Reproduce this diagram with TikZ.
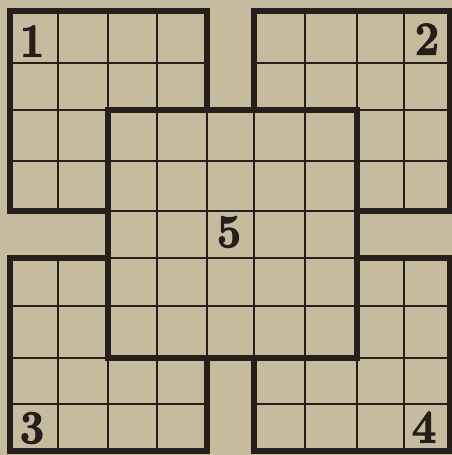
\documentclass[tikz,border=0pt]{standalone}
\usepackage{fontspec}
\usepackage{tikz}
\newfontfamily\numfont[BoldFeatures={FakeBold=2.5}]{Latin Modern Roman}
\definecolor{paper}{RGB}{198,187,158}
\definecolor{ink}{RGB}{38,30,24}
\tikzset{
  gridline/.style={draw=ink, line width=2.8pt, line cap=rect},
  boldline/.style={draw=ink, line width=6pt, line join=miter, line cap=butt},
  numlabel/.style={text=ink, inner sep=0pt, font=\numfont\fontsize{47}{47}\selectfont\bfseries, xscale=0.92},
}
\newcommand\gridregion[4]{%
  \foreach \i in {#1,...,#2} \draw[gridline] (X\i |- Y#3) -- (X\i |- Y#4);
  \foreach \j in {#3,...,#4} \draw[gridline] (X#1 |- Y\j) -- (X#2 |- Y\j);
}
\begin{document}
\begin{tikzpicture}[x=1pt,y=-1pt]
  \fill[paper] (0,0) rectangle (452,455);
  \useasboundingbox (0,0) rectangle (452,455);
  \foreach \v [count=\i from 0] in {10,58,108,157,207,254,305,357,404,450}
    \coordinate (X\i) at (\v,0);
  \foreach \v [count=\j from 0] in {11,63,110,161,211,258,306,358,404,451}
    \coordinate (Y\j) at (0,\v);
  % thin grids of the five squares
  \gridregion{0}{4}{0}{4}
  \gridregion{5}{9}{0}{4}
  \gridregion{0}{4}{5}{9}
  \gridregion{5}{9}{5}{9}
  \gridregion{2}{7}{2}{7}
  % bold outlines
  \draw[boldline] (X2 |- Y2) rectangle (X7 |- Y7);
  \draw[boldline] (X2 |- Y4) -- (X0 |- Y4) -- (X0 |- Y0) -- (X4 |- Y0) -- (X4 |- Y2);
  \draw[boldline] (X5 |- Y2) -- (X5 |- Y0) -- (X9 |- Y0) -- (X9 |- Y4) -- (X7 |- Y4);
  \draw[boldline] (X2 |- Y5) -- (X0 |- Y5) -- (X0 |- Y9) -- (X4 |- Y9) -- (X4 |- Y7);
  \draw[boldline] (X7 |- Y5) -- (X9 |- Y5) -- (X9 |- Y9) -- (X5 |- Y9) -- (X5 |- Y7);
  % numbers
  \node[numlabel] (n1) at (32,41) {1};
  \node[numlabel] (n2) at (427,39) {2};
  \node[numlabel] (n3) at (32,428) {3};
  \node[numlabel] (n4) at (424,427) {4};
  \node[numlabel] (n5) at (229,232) {5};
\end{tikzpicture}
\end{document}
